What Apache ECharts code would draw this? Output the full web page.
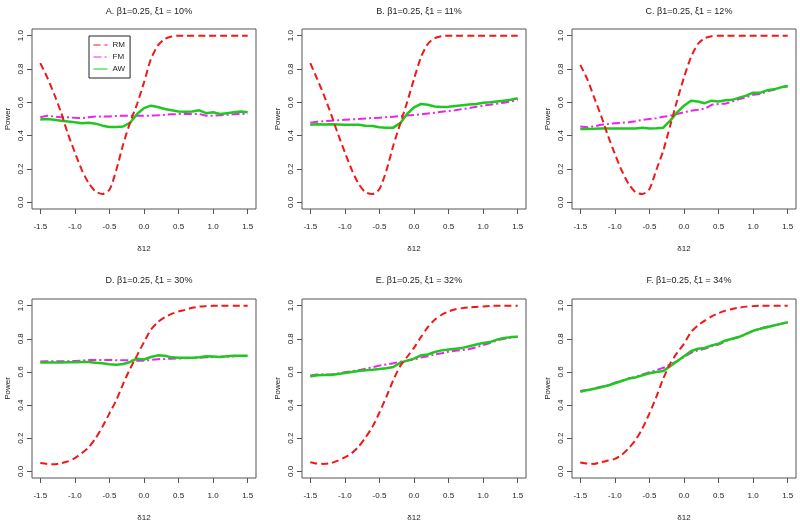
<!DOCTYPE html>
<html><head><meta charset="utf-8">
<script src="https://cdn.jsdelivr.net/npm/echarts@6/dist/echarts.min.js"></script>
<style>html,body{margin:0;padding:0;background:#fff}#c{width:800px;height:523px}</style>
</head><body><div id="c"></div>
<script>
const xs = [-1.5,-1.4,-1.3,-1.2,-1.1,-1.0,-0.9,-0.8,-0.7,-0.6,-0.5,-0.4,-0.3,-0.2,-0.1,0.0,0.1,0.2,0.3,0.4,0.5,0.6,0.7,0.8,0.9,1.0,1.1,1.2,1.3,1.4,1.5];
const xTicks = [-1.5,-1.0,-0.5,0.0,0.5,1.0,1.5];
const yTicks = [0,0.2,0.4,0.6,0.8,1.0];
const seriesNames = ['RM','FM','AW'];
const titles = ['A. β1=0.25, ξ1 = 10%','B. β1=0.25, ξ1 = 11%','C. β1=0.25, ξ1 = 12%','D. β1=0.25, ξ1 = 30%','E. β1=0.25, ξ1 = 32%','F. β1=0.25, ξ1 = 34%'];

const A_RM = [0.835,0.75,0.65,0.54,0.41,0.30,0.195,0.115,0.065,0.05,0.075,0.195,0.35,0.48,0.59,0.72,0.86,0.94,0.98,0.995,1,1,1,1,1,1,1,1,1,1,1];
const A_FM = [0.51,0.52,0.515,0.51,0.51,0.507,0.505,0.51,0.515,0.515,0.515,0.518,0.52,0.52,0.52,0.52,0.52,0.522,0.525,0.528,0.53,0.53,0.53,0.53,0.52,0.52,0.522,0.525,0.528,0.53,0.53];
const A_AW = [0.497,0.50,0.495,0.49,0.485,0.48,0.475,0.478,0.472,0.46,0.452,0.452,0.455,0.478,0.53,0.565,0.58,0.572,0.56,0.553,0.545,0.543,0.545,0.552,0.535,0.54,0.53,0.535,0.54,0.545,0.54];

const B_RM = [0.835,0.74,0.64,0.53,0.41,0.30,0.195,0.11,0.06,0.05,0.08,0.19,0.34,0.47,0.60,0.74,0.87,0.95,0.985,0.997,1,1,1,1,1,1,1,1,1,1,1];
const B_FM = [0.478,0.484,0.487,0.49,0.492,0.495,0.498,0.50,0.503,0.506,0.508,0.511,0.514,0.518,0.521,0.524,0.528,0.533,0.538,0.543,0.548,0.553,0.56,0.566,0.573,0.58,0.586,0.592,0.598,0.605,0.615];
const B_AW = [0.466,0.468,0.467,0.468,0.467,0.466,0.465,0.466,0.46,0.458,0.45,0.448,0.448,0.475,0.53,0.57,0.59,0.585,0.575,0.572,0.573,0.578,0.583,0.587,0.59,0.598,0.60,0.605,0.61,0.615,0.624];

const C_RM = [0.825,0.74,0.63,0.52,0.40,0.29,0.19,0.11,0.06,0.05,0.08,0.195,0.31,0.46,0.61,0.75,0.87,0.95,0.985,0.997,1,1,1,1,1,1,1,1,1,1,1];
const C_FM = [0.455,0.45,0.455,0.465,0.47,0.475,0.477,0.48,0.487,0.495,0.5,0.505,0.513,0.52,0.53,0.54,0.55,0.555,0.562,0.585,0.59,0.592,0.605,0.62,0.63,0.645,0.65,0.665,0.675,0.688,0.70];
const C_AW = [0.44,0.44,0.441,0.443,0.443,0.443,0.443,0.443,0.443,0.447,0.443,0.445,0.448,0.49,0.54,0.58,0.61,0.605,0.595,0.61,0.605,0.612,0.615,0.628,0.64,0.658,0.657,0.672,0.678,0.69,0.697];

const D_RM = [0.05,0.045,0.043,0.05,0.06,0.08,0.11,0.145,0.2,0.27,0.35,0.43,0.53,0.62,0.70,0.78,0.855,0.90,0.93,0.95,0.965,0.975,0.987,0.994,0.997,0.999,1,1,1,1,1];
const D_FM = [0.663,0.664,0.665,0.665,0.665,0.666,0.668,0.672,0.672,0.672,0.672,0.671,0.671,0.67,0.668,0.668,0.672,0.677,0.678,0.68,0.681,0.683,0.684,0.686,0.688,0.69,0.691,0.693,0.694,0.696,0.697];
const D_AW = [0.657,0.657,0.657,0.657,0.658,0.658,0.66,0.66,0.655,0.652,0.647,0.644,0.648,0.66,0.68,0.675,0.69,0.70,0.698,0.688,0.686,0.686,0.686,0.688,0.695,0.693,0.69,0.695,0.697,0.697,0.698];

const E_RM = [0.055,0.047,0.045,0.05,0.065,0.085,0.11,0.15,0.205,0.27,0.355,0.45,0.55,0.635,0.69,0.745,0.81,0.87,0.915,0.945,0.965,0.978,0.985,0.99,0.992,0.995,0.998,1,1,1,1];
const E_FM = [0.578,0.585,0.585,0.585,0.59,0.598,0.605,0.61,0.62,0.628,0.638,0.645,0.652,0.662,0.668,0.675,0.687,0.695,0.705,0.713,0.722,0.728,0.732,0.738,0.748,0.762,0.775,0.79,0.8,0.806,0.812];
const E_AW = [0.573,0.58,0.582,0.582,0.588,0.593,0.6,0.605,0.61,0.613,0.617,0.622,0.63,0.655,0.668,0.68,0.7,0.705,0.72,0.73,0.735,0.74,0.745,0.755,0.765,0.775,0.78,0.795,0.805,0.81,0.812];

const F_RM = [0.053,0.047,0.045,0.055,0.065,0.075,0.1,0.14,0.19,0.26,0.35,0.45,0.56,0.65,0.715,0.77,0.84,0.88,0.91,0.935,0.955,0.97,0.98,0.988,0.994,0.997,1,1,1,1,1];
const F_FM = [0.485,0.492,0.5,0.51,0.52,0.535,0.548,0.56,0.57,0.585,0.598,0.61,0.625,0.645,0.665,0.69,0.715,0.73,0.74,0.755,0.765,0.785,0.8,0.81,0.83,0.848,0.862,0.872,0.88,0.89,0.9];
const F_AW = [0.48,0.49,0.498,0.508,0.518,0.532,0.545,0.56,0.567,0.58,0.592,0.6,0.605,0.635,0.665,0.695,0.725,0.74,0.745,0.76,0.77,0.79,0.8,0.812,0.83,0.848,0.86,0.87,0.88,0.89,0.9];

const panels = [
  {rm:A_RM, fm:A_FM, aw:A_AW},
  {rm:B_RM, fm:B_FM, aw:B_AW},
  {rm:C_RM, fm:C_FM, aw:C_AW},
  {rm:D_RM, fm:D_FM, aw:D_AW},
  {rm:E_RM, fm:E_FM, aw:E_AW},
  {rm:F_RM, fm:F_FM, aw:F_AW}
];

const FONT = "'Liberation Sans Narrow','Liberation Sans',Arial,sans-serif";
const TXT = '#222';
const AXC = '#555';
const lefts = [32, 302, 572], tops = [29, 299], heights = [180, 179];
const W = 224;
const grid = [], xAxis = [], yAxis = [], series = [], title = [];

panels.forEach((p, i) => {
  const c = i % 3, r = Math.floor(i / 3);
  grid.push({left: lefts[c], top: tops[r], width: W, height: heights[r], show: true,
    borderColor: AXC, borderWidth: 1, backgroundColor: 'transparent'});
  title.push({text: titles[i], left: lefts[c] + W / 2, top: r === 0 ? 2 : 271, textAlign: 'center',
    textStyle: {fontSize: 9, fontWeight: 'normal', color: TXT, fontFamily: FONT}});
  xAxis.push({type: 'value', gridIndex: i, min: -1.62, max: 1.62,
    name: 'δ12', nameLocation: 'middle', nameGap: 36,
    nameTextStyle: {fontSize: 8, color: TXT, fontFamily: FONT},
    axisLine: {show: false, onZero: false}, splitLine: {show: false},
    axisTick: {show: true, customValues: xTicks, length: 5, lineStyle: {color: AXC}},
    axisLabel: {customValues: xTicks, formatter: v => v.toFixed(1), margin: 14,
      fontSize: 8, color: TXT, fontFamily: FONT}});
  yAxis.push({type: 'value', gridIndex: i, min: -0.04, max: 1.04,
    name: 'Power', nameLocation: 'middle', nameGap: 20, nameRotate: 90,
    nameTextStyle: {fontSize: 8, color: TXT, fontFamily: FONT},
    axisLine: {show: false, onZero: false}, splitLine: {show: false},
    axisTick: {show: true, customValues: yTicks, length: 5, lineStyle: {color: AXC}},
    axisLabel: {customValues: yTicks, formatter: v => v.toFixed(1), margin: 7, rotate: 90,
      fontSize: 8, color: TXT, fontFamily: FONT}});
  series.push({name: 'FM', type: 'line', xAxisIndex: i, yAxisIndex: i, symbol: 'none', z: 2,
    data: xs.map((x, k) => [x, p.fm[k]]),
    lineStyle: {color: '#ee22ee', width: 2, type: [8, 3, 2, 3]}, itemStyle: {color: '#ee22ee'}});
  series.push({name: 'AW', type: 'line', xAxisIndex: i, yAxisIndex: i, symbol: 'none', z: 3,
    data: xs.map((x, k) => [x, p.aw[k]]),
    lineStyle: {color: '#1ec81e', width: 2.5}, itemStyle: {color: '#1ec81e'}});
  series.push({name: 'RM', type: 'line', xAxisIndex: i, yAxisIndex: i, symbol: 'none', z: 4,
    smooth: 0.25,
    data: xs.map((x, k) => [x, p.rm[k]]),
    lineStyle: {color: '#f01818', width: 2, type: [7, 4]}, itemStyle: {color: '#f01818'}});
});

const chart = echarts.init(document.getElementById('c'), null, {renderer: 'canvas'});
chart.setOption({
  animation: false,
  backgroundColor: '#fff',
  title, grid, xAxis, yAxis, series,
  legend: {data: seriesNames, orient: 'vertical', left: 89, top: 36,
    itemWidth: 14, itemHeight: 8, itemGap: 4, padding: [5, 5, 5, 4],
    borderColor: '#222', borderWidth: 1, backgroundColor: '#fff',
    itemStyle: {opacity: 0},
    lineStyle: {width: 1},
    textStyle: {fontSize: 8, color: TXT, fontFamily: FONT}}
});
</script>
</body></html>
